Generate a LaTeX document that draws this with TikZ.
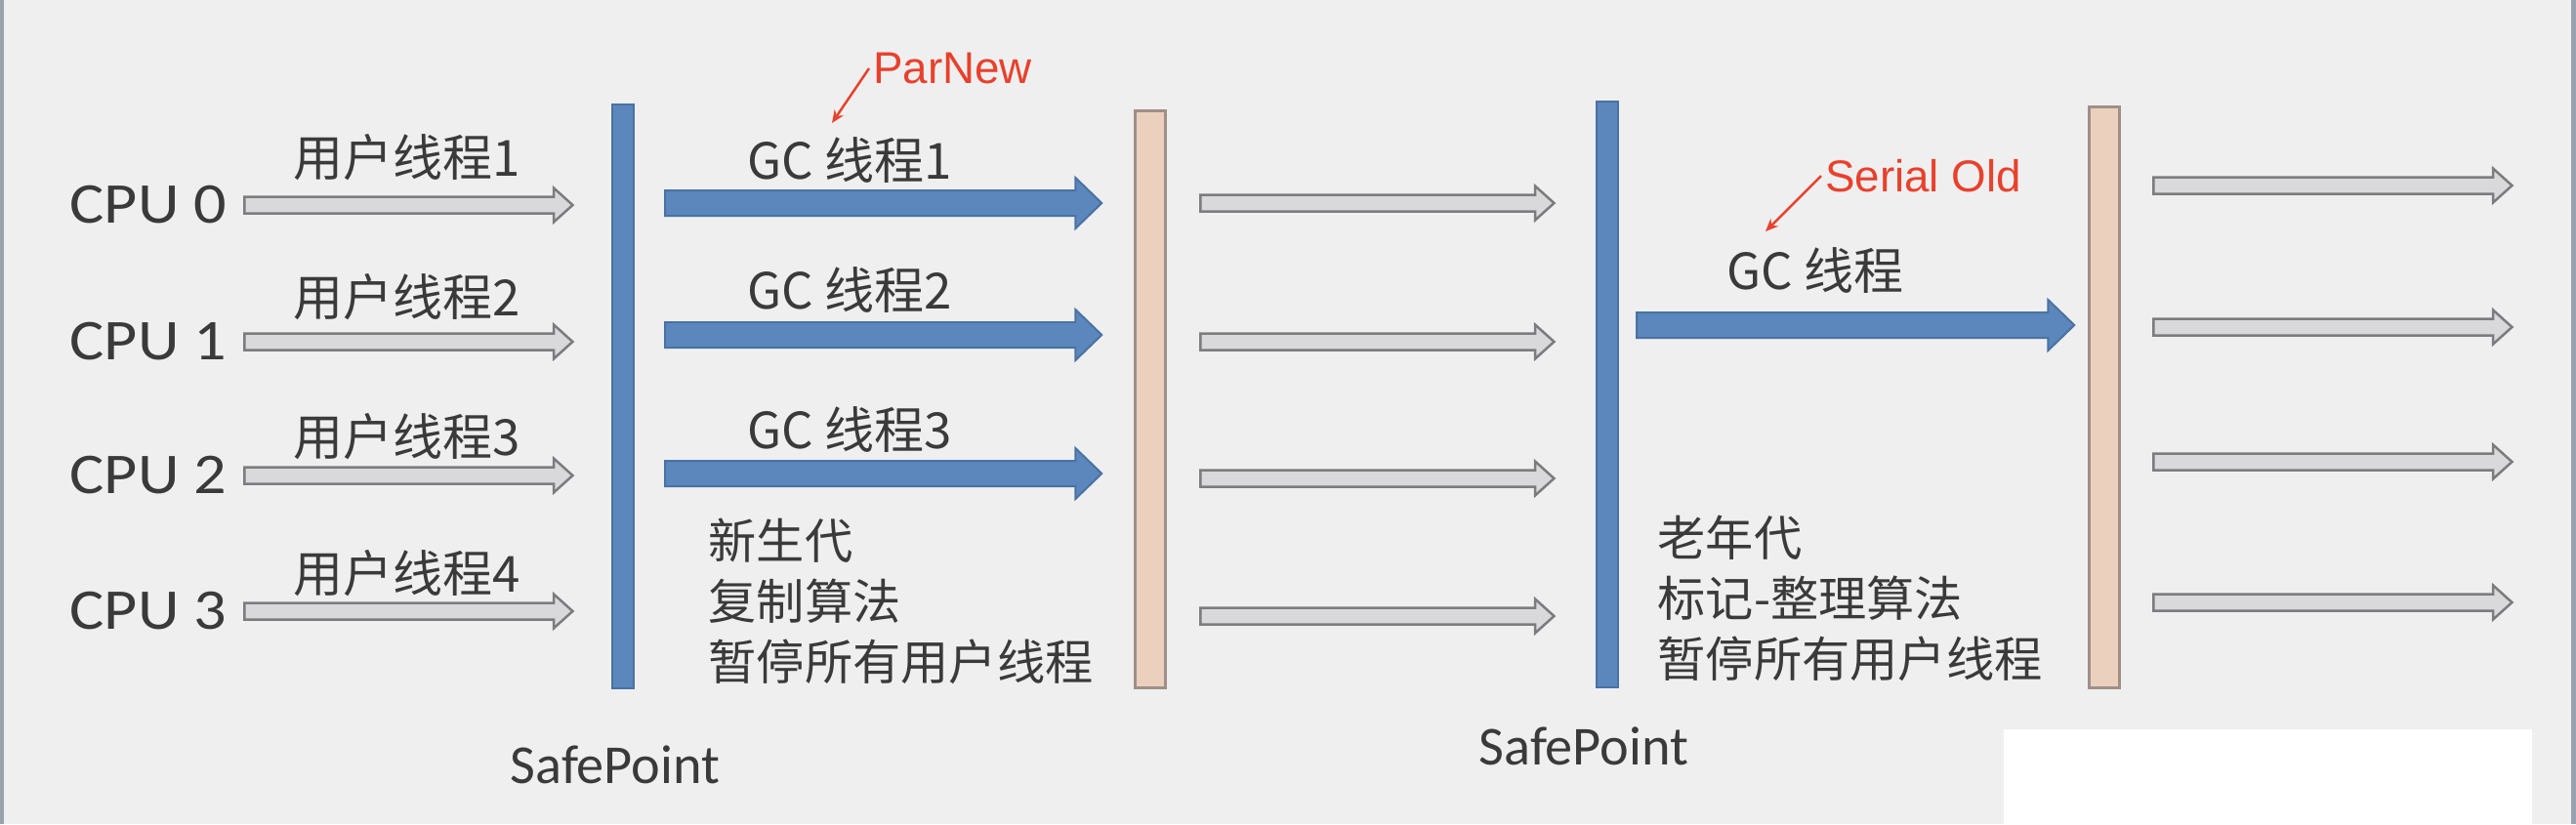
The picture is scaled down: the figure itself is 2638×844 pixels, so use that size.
\documentclass[tikz,border=0pt]{standalone}
\usepackage{fontspec}
\setmainfont{Carlito}
\newfontfamily\widesans[FakeStretch=1.12]{Carlito}
\newfontfamily\cjk{Noto Sans CJK SC}
\newfontfamily\notefont{Liberation Sans}
\usetikzlibrary{arrows.meta,positioning,shapes.arrows}
\definecolor{Paper}{HTML}{EFEFF0}
\definecolor{Frame}{HTML}{98A2AE}
\definecolor{Ink}{HTML}{3A3A3A}
\definecolor{SafeBlue}{HTML}{5B87BC}
\definecolor{SafeEdge}{HTML}{4A72A2}
\definecolor{Peach}{HTML}{EBD0BE}
\definecolor{PeachEdge}{HTML}{A08F88}
\definecolor{RunFill}{HTML}{D9D9DB}
\definecolor{RunEdge}{HTML}{7C7C7E}
\definecolor{NoteRed}{HTML}{E8412C}

\tikzset{
  run/.style={single arrow,draw=RunEdge,fill=RunFill,line width=0.25mm,inner sep=0pt,text height=0.145cm,text depth=0pt,single arrow head extend=0.09cm,single arrow tip angle=84,anchor=tail},
  gcrun/.style={single arrow,draw=SafeEdge,fill=SafeBlue,line width=0.2mm,inner sep=0pt,text height=0.24cm,text depth=0pt,single arrow head extend=0.13cm,single arrow tip angle=88,minimum height=4.47cm,anchor=tail},
  safebar/.style={rectangle,draw=SafeEdge,fill=SafeBlue,line width=0.2mm,minimum width=0.22cm,inner sep=0pt},
  resumebar/.style={rectangle,draw=PeachEdge,fill=Peach,line width=0.3mm,minimum width=0.31cm,inner sep=0pt},
  cpulabel/.style={font=\widesans\fontsize{16.8}{20}\selectfont,text=Ink,anchor=west,inner sep=0pt},
  thread/.style={font=\cjk\fontsize{14.5}{17}\selectfont,text=Ink,inner sep=0pt},
  phase/.style={font=\cjk\fontsize{14}{17.6}\selectfont,text=Ink,align=left,anchor=west,inner sep=0pt},
  safelabel/.style={font=\fontsize{16}{19}\selectfont,text=Ink,inner sep=0pt},
  note/.style={font=\notefont\fontsize{13}{15}\selectfont,text=NoteRed,anchor=west,inner sep=1pt},
  notearrow/.style={draw=NoteRed,line width=0.25mm,-{Stealth[length=1.3mm,width=1.1mm]}},
}

\begin{document}
\begin{tikzpicture}[x=0.01cm,y=-0.01cm]
  \fill[Paper] (0,0) rectangle (2638,844);
  \useasboundingbox (0,0) rectangle (2638,844);
  \fill[Frame] (0,0) rectangle (4,844);
  \fill[Frame] (2633,0) rectangle (2638,844);
  \fill[white] (2052,747) rectangle (2593,844);
  % safepoints and resume bars
  \node[safebar,minimum height=5.98cm] (sp1) at (638,406) {};
  \node[resumebar,minimum height=5.9cm] (rs1) at (1178,409) {};
  \node[safebar,minimum height=6.0cm] (sp2) at (1646,404) {};
  \node[resumebar,minimum height=5.95cm] (rs2) at (2155,407) {};
  \node[safelabel] (spl1) at (630,783) {SafePoint};
  \node[safelabel] (spl2) at (1622,764) {SafePoint};
  % user threads before the first safepoint
  \foreach \i/\n/\y/\ly in {0/1/210/161,1/2/350/304,2/3/487/447,3/4/626/587}{
    \node[cpulabel] (cpu\i) at (71,\y) {CPU \i};
    \node[run,minimum height=3.36cm] (u\i) at (249,\y) {};
    \node[thread] (ul\i) at (417,\ly) {用户线程\n};
  }
  % ParNew gc threads
  \foreach \n/\y/\ly in {1/208/164,2/343/297,3/485/440}{
    \node[gcrun] (gc\n) at (680,\y) {};
    \node[thread] (gcl\n) at (870,\ly) {GC 线程\n};
  }
  \node[phase] (young) at (725,616) {新生代\\复制算法\\暂停所有用户线程};
  % user threads resumed
  \foreach \i/\y in {0/208,1/350,2/490,3/631}{\node[run,minimum height=3.62cm] (m\i) at (1228,\y) {};}
  % Serial Old gc thread
  \node[gcrun,minimum height=4.48cm] (gc) at (1675,333) {};
  \node[thread] (gcl) at (1859,277) {GC 线程};
  \node[phase] (old) at (1697,613) {老年代\\标记-整理算法\\暂停所有用户线程};
  \foreach \i/\y in {0/190,1/335,2/473,3/617}{\node[run,minimum height=3.67cm] (r\i) at (2204,\y) {};}
  % red notes
  \node[note] (parnew) at (890,70) {ParNew};
  \coordinate (pn) at (852,126);
  \draw[notearrow] (parnew.west) -- (pn);
  \node[note] (serial) at (1865,180) {Serial Old};
  \coordinate (so) at (1808,237);
  \draw[notearrow] (serial.west) -- (so);
\end{tikzpicture}
\end{document}
